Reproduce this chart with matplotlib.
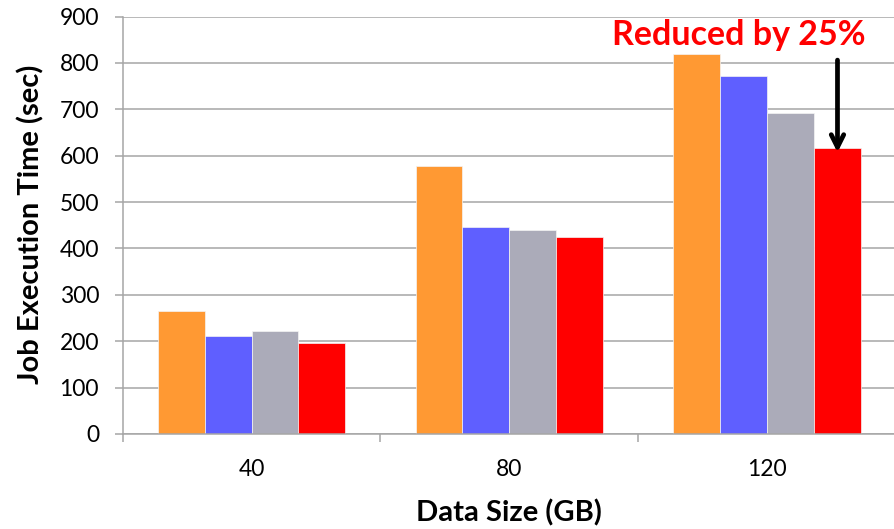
import matplotlib
matplotlib.use("Agg")
import matplotlib.pyplot as plt
import numpy as np

# Job execution time per data size, four configurations
categories = ["40", "80", "120"]
series_a = [265, 578, 820]   # orange
series_b = [212, 446, 771]   # blue
series_c = [222, 440, 692]   # gray
series_d = [197, 424, 617]   # red
series = [series_a, series_b, series_c, series_d]
colors = ["#FF9933", "#5F5FFF", "#ABABB9", "#FF0000"]

y_ticks = [0, 100, 200, 300, 400, 500, 600, 700, 800, 900]
annotation = "Reduced by 25%"

plt.rcParams["font.family"] = ["Lato", "DejaVu Sans"]

W, H = 895, 529
fig = plt.figure(figsize=(W / 100, H / 100), dpi=100)
left, right, bottom, top = 122.7, 896.0, 434.0, 16.5
ax = fig.add_axes([left / W, 1 - bottom / H, (right - left) / W, (bottom - top) / H])

x = np.arange(len(categories))
w = 0.182
grid_col = "#A6A6A6"

ax.set_axisbelow(True)
ax.yaxis.grid(True, color=grid_col, linewidth=1.1)
for i, (vals, col) in enumerate(zip(series, colors)):
    ax.bar(x + (i - 1.5) * w, vals, width=w, color=col,
           edgecolor="#F4F4F4", linewidth=0.5, zorder=2)

ax.set_xlim(-0.5, 2.5)
ax.set_ylim(0, 900)
ax.set_yticks(y_ticks)
ax.set_xticks(x)
ax.set_xticklabels(categories)
ax.set_xticks([-0.5, 0.5, 1.5, 2.5], minor=True)

for s in ["top", "right"]:
    ax.spines[s].set_visible(False)
for s in ["left", "bottom"]:
    ax.spines[s].set_color(grid_col)
    ax.spines[s].set_linewidth(1.1)

ax.tick_params(axis="y", direction="out", length=6, width=1.1, color=grid_col,
               pad=11, labelsize=16.5, labelcolor="black")
ax.tick_params(axis="x", which="major", length=0, pad=18, labelsize=16.5)
ax.tick_params(axis="x", which="minor", direction="out", length=6, width=1.1,
               color=grid_col)

fig.text(509 / W, 1 - 513 / H, "Data Size (GB)", ha="center", va="center",
         fontsize=21, fontweight="bold")
fig.text(31 / W, 1 - 224 / H, "Job Execution Time (sec)", ha="center",
         va="center", rotation=90, fontsize=21, fontweight="bold")

# Highlight the reduction of the last configuration at the largest data size
red_x = x[2] + 1.5 * w
ax.annotate("", xy=(red_x, 601), xytext=(red_x, 812),
            arrowprops=dict(arrowstyle="->,head_length=0.9,head_width=0.45",
                            color="black", lw=3.4), zorder=5)
ax.text(1.889, 860, annotation, color="#FF0000", fontsize=24.5,
        fontweight="bold", ha="center", va="center", zorder=5)

fig.savefig("out.png", dpi=100)
